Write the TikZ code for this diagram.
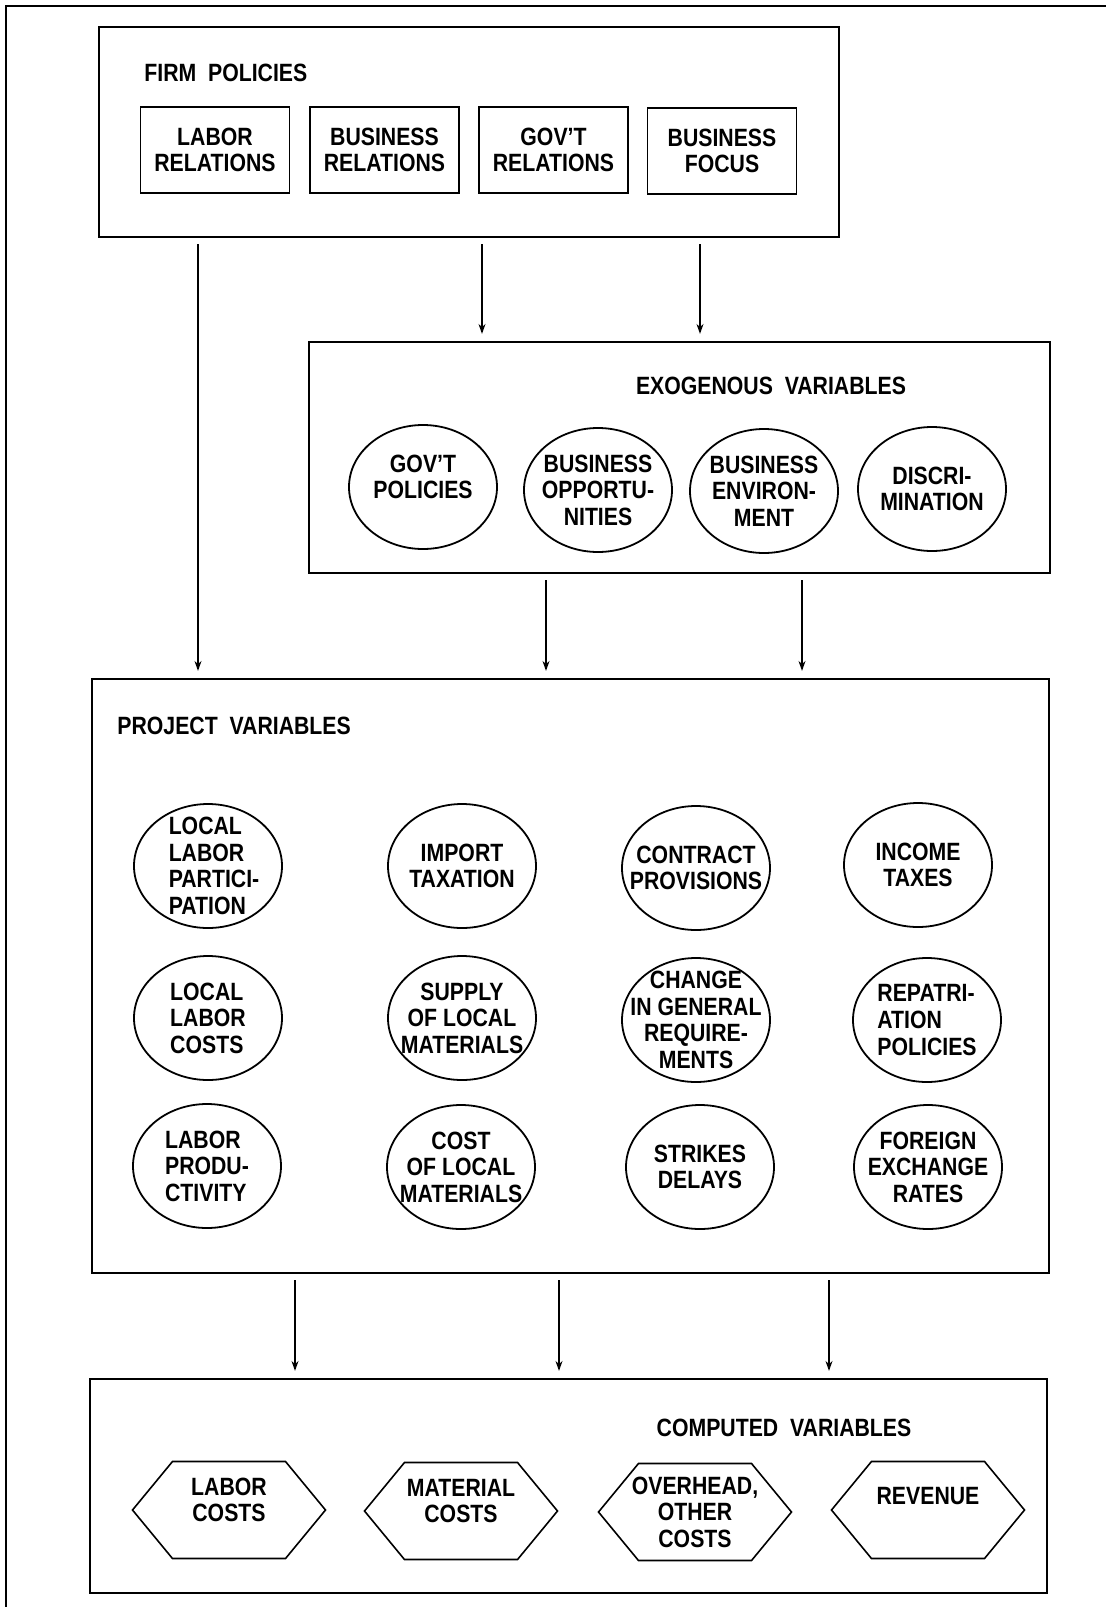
\documentclass[tikz,border=0pt]{standalone}
\usepackage{fontspec}
\setmainfont{Liberation Sans}[FakeStretch=0.85]
\usepackage{tikz}
\usetikzlibrary{arrows.meta,shapes.geometric,shapes.symbols}

\tikzset{
  txt/.style={font=\fontsize{12.5pt}{13.3pt}\selectfont\bfseries, align=center},
  bigbox/.style={draw, line width=1.1pt, inner sep=0pt},
  polbox/.style={draw, line width=0.9pt, txt, minimum width=74.5pt, minimum height=43pt, inner sep=0pt},
  bubble/.style={draw, ellipse, line width=0.9pt, minimum width=74pt, minimum height=62pt, inner sep=0pt},
  hexa/.style={draw, signal, signal to=west and east, signal pointer angle=101, line width=0.8pt,
    minimum width=96.5pt, minimum height=48.5pt, inner sep=0pt},
  lbl/.style={txt},
  flow/.style={-{Stealth[length=5pt,width=3.5pt]}, line width=0.7pt, shorten <=3pt, shorten >=3.5pt}
}

\begin{document}
\begin{tikzpicture}[x=0.5pt,y=-0.5pt]
  \useasboundingbox (0,0) rectangle (1106,1607);

  % outer frame (left and top only)
  \draw[line width=1pt] (6,1607) -- (6,6) -- (1106,6);

  % firm policies
  \node[bigbox, minimum width=370pt, minimum height=105pt] (firm) at (469,132) {};
  \node[txt, anchor=west, inner xsep=0pt] (firmt) at (144,73) {FIRM\ \ POLICIES};
  \node[polbox] (labrel) at (215,150) {LABOR\\RELATIONS};
  \node[polbox] (busrel) at (384.5,150) {BUSINESS\\RELATIONS};
  \node[polbox] (govrel) at (553.5,150) {GOV'T\\RELATIONS};
  \node[polbox] (busfoc) at (722,151) {BUSINESS\\FOCUS};

  % exogenous variables
  \node[bigbox, minimum width=370.5pt, minimum height=115.5pt] (exo) at (679.5,457.5) {};
  \node[txt] (exot) at (771,386) {EXOGENOUS\ \ VARIABLES};
  \node[bubble, label={[lbl, yshift=5pt]center:GOV'T\\POLICIES}] (govpol) at (423,487) {};
  \node[bubble, label={[lbl]center:BUSINESS\\OPPORTU-\\NITIES}] (busopp) at (598,490) {};
  \node[bubble, label={[lbl]center:BUSINESS\\ENVIRON-\\MENT}] (busenv) at (764,491) {};
  \node[bubble, label={[lbl]center:DISCRI-\\MINATION}] (discr) at (932,489) {};

  % project variables
  \node[bigbox, minimum width=478.5pt, minimum height=297pt] (proj) at (570.5,976) {};
  \node[txt, anchor=west, inner xsep=0pt] (projt) at (117,726) {PROJECT\ \ VARIABLES};

  \node[bubble, label={[lbl, align=left, xshift=3pt]center:LOCAL\\LABOR\\PARTICI-\\PATION}] (llp) at (208,866) {};
  \node[bubble, label={[lbl]center:IMPORT\\TAXATION}] (imptax) at (462,866) {};
  \node[bubble, label={[lbl]center:CONTRACT\\PROVISIONS}] (contr) at (696,868) {};
  \node[bubble, label={[lbl]center:INCOME\\TAXES}] (inctax) at (918,865) {};

  \node[bubble, label={[lbl, align=left]center:LOCAL\\LABOR\\COSTS}] (llc) at (208,1018) {};
  \node[bubble, label={[lbl]center:SUPPLY\\OF LOCAL\\MATERIALS}] (supmat) at (462,1018) {};
  \node[bubble, label={[lbl]center:CHANGE\\IN GENERAL\\REQUIRE-\\MENTS}] (chgreq) at (696,1020) {};
  \node[bubble, label={[lbl, align=left]center:REPATRI-\\ATION\\POLICIES}] (repat) at (927,1020) {};

  \node[bubble, label={[lbl, align=left]center:LABOR\\PRODU-\\CTIVITY}] (labprod) at (207,1166) {};
  \node[bubble, label={[lbl]center:COST\\OF LOCAL\\MATERIALS}] (costmat) at (461,1167) {};
  \node[bubble, label={[lbl]center:STRIKES\\DELAYS}] (strikes) at (700,1167) {};
  \node[bubble, label={[lbl]center:FOREIGN\\EXCHANGE\\RATES}] (forex) at (928,1167) {};

  % computed variables
  \node[bigbox, minimum width=478.5pt, minimum height=107pt] (comp) at (568.5,1486) {};
  \node[txt] (compt) at (784,1428) {COMPUTED\ \ VARIABLES};
  \node[hexa, label={[lbl, yshift=5pt]center:LABOR\\COSTS}] (labcost) at (229,1510) {};
  \node[hexa, label={[lbl, yshift=5pt]center:MATERIAL\\COSTS}] (matcost) at (461,1511) {};
  \node[hexa, label={[lbl]center:OVERHEAD,\\OTHER\\COSTS}] (ovcost) at (695,1512) {};
  \node[hexa, label={[lbl, yshift=7pt]center:REVENUE}] (revenue) at (928,1510) {};

  % connectors
  \draw[flow] (firm.south -| 198,0) -- (proj.north -| 198,0);
  \draw[flow] (firm.south -| 482,0) -- (exo.north -| 482,0);
  \draw[flow] (firm.south -| 700,0) -- (exo.north -| 700,0);
  \draw[flow] (exo.south -| 546,0) -- (proj.north -| 546,0);
  \draw[flow] (exo.south -| 802,0) -- (proj.north -| 802,0);
  \draw[flow] (proj.south -| 295,0) -- (comp.north -| 295,0);
  \draw[flow] (proj.south -| 559,0) -- (comp.north -| 559,0);
  \draw[flow] (proj.south -| 829,0) -- (comp.north -| 829,0);
\end{tikzpicture}
\end{document}
